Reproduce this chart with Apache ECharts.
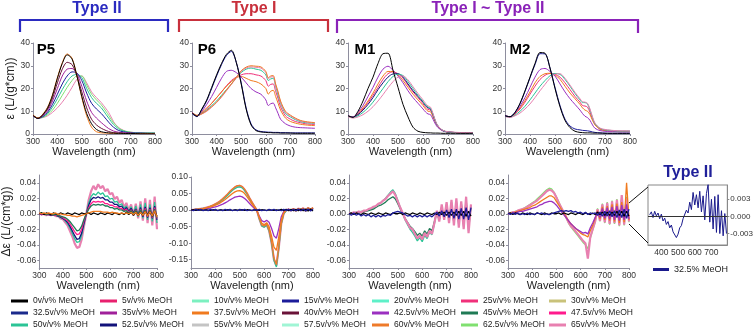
<!DOCTYPE html>
<html>
<head>
<meta charset="utf-8">
<title>MeOH titration spectra</title>
<script src="https://cdn.jsdelivr.net/npm/echarts@6/dist/echarts.min.js"></script>
<style>
    html, body { margin: 0; padding: 0; background: #fff; }
    #main { width: 756px; height: 330px; }
</style>
</head>
<body>
<div id="main"></div>
<script>
// ---- names / colours of the MeOH fractions (legend order, row by row) ----
var fracNames = ['0v/v% MeOH', '5v/v% MeOH', '10v/v% MeOH', '15v/v% MeOH', '20v/v% MeOH', '25v/v% MeOH', '30v/v% MeOH',
    '32.5v/v% MeOH', '35v/v% MeOH', '37.5v/v% MeOH', '40v/v% MeOH', '42.5v/v% MeOH', '45v/v% MeOH', '47.5v/v% MeOH',
    '50v/v% MeOH', '52.5v/v% MeOH', '55v/v% MeOH', '57.5v/v% MeOH', '60v/v% MeOH', '62.5v/v% MeOH', '65v/v% MeOH'];
var fracColors = ['#000000', '#e8206e', '#7cf0c0', '#1c1c9a', '#5ef0c8', '#f0307a', '#c9c27a',
    '#1b2a8c', '#a0209a', '#f07a1e', '#6a1238', '#9b30c0', '#1f7a55', '#ff1a8c',
    '#2bc496', '#12127a', '#c4c4c4', '#a0f5d5', '#ee7a2a', '#80e070', '#e880b0'];

// ---- x grids ----
var wlAbs = [300, 320, 340, 360, 380, 400, 420, 440, 460, 480, 500, 520, 540, 560, 580, 600,
    610, 620, 630, 640, 650, 660, 680, 700, 720, 740, 760, 780, 800];
var wlCd = [300, 310, 320, 330, 340, 350, 360, 370, 380, 390, 400, 410, 420, 430, 440, 450, 460, 470, 480, 490,
    500, 510, 520, 530, 540, 550, 560, 570, 580, 590, 600, 610, 620, 630, 640, 650, 660, 670, 680, 690,
    700, 710, 720, 730, 740, 750, 760, 770, 780, 790, 800];
var wlInset = [330, 340, 350, 360, 370, 380, 390, 400, 410, 420, 430, 440, 450, 460, 470, 480, 490,
    500, 510, 520, 530, 540, 550, 560, 570, 580, 590, 600, 610, 620, 630, 640, 650, 660, 670, 680, 690,
    700, 710, 720, 730, 740, 750, 760, 770, 780, 790];

// ---- tick labels ----
var wlTicks = [300, 400, 500, 600, 700, 800];
var absTicks = [0, 10, 20, 30, 40];
var cdTicks = [-0.06, -0.04, -0.02, 0, 0.02, 0.04];
var cdTicksP6 = [-0.15, -0.10, -0.05, 0, 0.05, 0.10];
var insetXTicks = [400, 500, 600, 700];
var insetYTicks = [-0.003, 0, 0.003];

// ---- absorbance, P5 ----
var p5Abs0 = [8.2, 6.8, 8.5, 11.5, 17, 24.5, 31, 34.8, 33, 25.5, 16.5, 9, 4.5, 2, 1, 0.6, 0.5, 0.4, 0.4, 0.3, 0.3, 0.3, 0.2, 0.2, 0.2, 0.1, 0.1, 0.1, 0.1];
var p5Abs375 = [8.4, 7, 8.7, 11.8, 17.3, 24.8, 31.3, 35.2, 33.3, 25.5, 16, 8, 3, 1, 0.5, 0.4, 0.3, 0.3, 0.3, 0.3, 0.2, 0.2, 0.2, 0.2, 0.2, 0.2, 0.2, 0.2, 0.2];
var p5Abs40 = [8.2, 6.9, 8.3, 11, 15.8, 22.5, 28.5, 31.5, 30.5, 25.5, 18.5, 11.5, 6.5, 4, 2.5, 1.5, 1.1, 0.8, 0.6, 0.5, 0.4, 0.4, 0.3, 0.3, 0.2, 0.2, 0.2, 0.2, 0.2];
var p5Abs35 = [8.1, 6.9, 8, 10.3, 14.5, 20, 25.5, 28.5, 28.8, 26.5, 21, 14.5, 9.5, 7, 5, 3.2, 2.4, 1.8, 1.3, 1, 0.8, 0.6, 0.5, 0.4, 0.3, 0.3, 0.3, 0.2, 0.2];
var p5Abs15 = [8, 6.9, 7.7, 9.6, 13, 17.5, 22, 25.5, 27.3, 26.8, 23.5, 18, 13.5, 11, 9, 6.5, 5.2, 4, 3, 2.2, 1.6, 1.2, 0.8, 0.5, 0.4, 0.4, 0.3, 0.3, 0.3];
var p5Abs50 = [8, 7, 7.5, 9, 11.8, 15.5, 19.5, 23, 25.5, 26.2, 24.8, 20, 16, 13.5, 11.5, 8.5, 7, 5.5, 4.2, 3.2, 2.3, 1.7, 1, 0.7, 0.5, 0.5, 0.4, 0.4, 0.4];
var p5Abs625 = [8, 7, 7.3, 8.5, 10.5, 13.5, 17, 20.5, 23.5, 25.5, 25.5, 21.5, 17.5, 15, 12.8, 9.8, 8.2, 6.5, 5, 3.8, 2.8, 2, 1.2, 0.8, 0.6, 0.5, 0.5, 0.4, 0.4];
var p5Abs65 = [8, 7, 7.2, 8, 9.5, 11.5, 14, 17, 20.5, 24, 25.5, 22.5, 18.5, 16, 13.8, 11, 9.5, 7.5, 5.5, 4, 3, 2.2, 1.2, 0.8, 0.6, 0.5, 0.5, 0.4, 0.4];

// ---- absorbance, P6 ----
var p6Abs0 = [9.3, 7.8, 11, 15, 20.5, 26, 31, 35, 36.8, 31.5, 22, 11, 4, 1.5, 0.9, 0.7, 0.6, 0.6, 0.5, 0.5, 0.5, 0.4, 0.4, 0.4, 0.3, 0.3, 0.3, 0.3, 0.3];
var p6Abs15 = [9, 7.6, 10.7, 14.6, 20, 25.5, 30.5, 34.5, 36.3, 31.5, 22.5, 11.5, 4.5, 1.8, 1.1, 0.9, 0.8, 0.8, 0.7, 0.7, 0.7, 0.6, 0.6, 0.5, 0.5, 0.5, 0.5, 0.5, 0.5];
var p6Abs425 = [9.5, 8, 10, 13, 16.5, 20.5, 24.5, 27.5, 28, 27, 25, 22.5, 20, 18.5, 17.5, 15, 12.5, 13.3, 13.6, 11.5, 9, 6.5, 4.5, 3.5, 3, 2.8, 2.7, 2.6, 2.5];
var p6Abs375 = [9.5, 8.2, 9.5, 11.5, 13.5, 16, 18.5, 21, 23, 24.8, 25.3, 24.5, 23.5, 23, 22, 20, 17.5, 18.8, 19.2, 16.5, 13.5, 10.5, 7, 5.5, 4.8, 4.3, 4, 3.8, 3.7];
var p6Abs25 = [9.3, 8, 9.2, 11, 13.5, 16, 18.5, 21.2, 23.5, 25, 26, 26.5, 26.5, 26, 25.5, 23.5, 21, 21.8, 22, 18.8, 15.5, 12, 8, 6.5, 5.5, 5, 4.5, 4.3, 4.2];
var p6Abs50 = [9, 8, 9, 10.5, 12.5, 14.5, 17, 19.5, 22, 24.8, 27, 28.5, 29, 28.5, 28, 26, 23.5, 24.2, 24.5, 21, 17, 13.5, 9, 7.5, 6.3, 5.5, 5, 4.8, 4.6];
var p6Abs65 = [9, 8, 8.8, 10, 11.8, 13.8, 16.2, 19, 21.8, 24.6, 27.5, 29, 29.5, 29.3, 29, 27, 24.3, 25, 25.2, 21.5, 18, 14, 9.5, 8, 6.7, 5.8, 5.3, 5, 4.8];
var p6Abs60 = [9.2, 8.1, 8.9, 10.2, 12, 14, 16.5, 19.3, 22, 24.8, 27.8, 29.4, 30, 29.8, 29.5, 27.5, 24.8, 25.5, 25.7, 22, 18.5, 14.5, 10, 8.3, 7, 6, 5.5, 5.2, 5];

// ---- absorbance, M1 ----
var m1Abs0 = [8, 7.3, 10, 14.5, 20, 25, 31, 35.3, 35.5, 28, 20.5, 13, 7.5, 3, 1.2, 0.7, 0.6, 0.5, 0.5, 0.4, 0.4, 0.4, 0.3, 0.3, 0.3, 0.3, 0.3, 0.3, 0.3];
var m1Abs425 = [8, 7.5, 9.5, 12.5, 16.5, 20.5, 25, 28.5, 29.8, 28, 25.5, 22.5, 19, 16, 13.5, 11, 9.7, 8.8, 8.5, 6.5, 4.3, 2.8, 1.3, 0.9, 0.7, 0.6, 0.5, 0.5, 0.5];
var m1Abs375 = [8, 7.4, 9, 11.5, 14.5, 18, 22, 25.5, 27.5, 27.5, 26, 23.5, 20.5, 17.5, 15, 12.5, 11, 10, 9.8, 7.5, 5, 3.2, 1.4, 0.9, 0.7, 0.6, 0.5, 0.5, 0.5];
var m1Abs25 = [7.9, 7.3, 8.7, 11, 13.8, 17, 20.5, 24, 26.5, 27.3, 26.5, 24.5, 21.5, 18.5, 16, 13.3, 11.8, 10.8, 10.5, 8.2, 5.3, 3.3, 1.4, 0.9, 0.7, 0.6, 0.5, 0.5, 0.5];
var m1Abs525 = [8, 7.3, 8.5, 10.5, 13, 16, 19.5, 22.5, 25, 26.4, 26.5, 25, 22, 19, 16.5, 14, 12.5, 11.5, 11, 8.5, 5.5, 3.5, 1.5, 0.9, 0.7, 0.6, 0.5, 0.5, 0.5];
var m1Abs50 = [7.8, 7.2, 8, 9.5, 11.5, 14, 17, 20, 23, 25.3, 26.3, 25.7, 23, 20, 17, 14.3, 12.8, 11.8, 11.3, 8.7, 5.6, 3.5, 1.5, 0.9, 0.7, 0.6, 0.5, 0.5, 0.5];
var m1Abs65 = [7.6, 7, 7.5, 8.5, 10, 12, 14.5, 17.3, 20.3, 23, 25, 25.5, 23.8, 20.8, 17.8, 15, 13.5, 12.3, 11.8, 9, 5.8, 3.6, 1.6, 1, 0.8, 0.7, 0.6, 0.6, 0.6];

// ---- absorbance, M2 ----
var m2Abs0 = [8, 7.6, 9.5, 13.5, 19, 25, 31, 35.8, 35.5, 29, 20, 12, 6, 2.8, 1.2, 0.7, 0.6, 0.5, 0.5, 0.5, 0.4, 0.4, 0.4, 0.3, 0.3, 0.3, 0.3, 0.3, 0.3];
var m2Abs15 = [8, 7.6, 9.5, 13.3, 18.7, 24.7, 30.5, 35.3, 35.2, 29, 20.5, 12.5, 6.5, 3.5, 2.2, 1.8, 1.6, 1.5, 1.4, 1.2, 0.9, 0.7, 0.5, 0.4, 0.3, 0.3, 0.3, 0.3, 0.3];
var m2Abs425 = [8, 7.6, 9.2, 12.2, 16, 20.5, 25, 28.3, 28.8, 27.5, 25.5, 22, 18.5, 15.5, 13, 10.5, 9, 7.8, 7.2, 6, 4, 2.5, 1.5, 1.2, 1, 1, 0.9, 0.9, 0.9];
var m2Abs375 = [8, 7.6, 9, 11.5, 14.8, 18.5, 22.5, 25.3, 26.5, 26.7, 26, 24, 21, 18, 15.5, 13, 11.5, 10.5, 10, 8.5, 6, 4, 2, 1.5, 1.3, 1.2, 1.1, 1.1, 1.1];
var m2Abs25 = [7.9, 7.5, 8.8, 11, 14, 17.5, 21, 24, 25.8, 26.6, 26.3, 25, 22.5, 19.5, 16.5, 14, 12.5, 12.3, 11.8, 9.5, 6.5, 4.2, 2.2, 1.6, 1.4, 1.3, 1.2, 1.2, 1.2];
var m2Abs50 = [7.8, 7.4, 8.3, 10, 12.2, 15, 18, 21, 23.5, 25.6, 26.6, 26.2, 24, 21, 17.8, 15, 13.8, 13.8, 13.2, 10.5, 7.2, 4.5, 2.5, 1.8, 1.6, 1.4, 1.3, 1.3, 1.3];
var m2Abs65 = [7.7, 7.3, 8, 9.2, 11, 13.2, 16, 19, 21.8, 24.5, 26.3, 26.5, 24.5, 21.5, 18.3, 15.5, 14.2, 14, 13.5, 11, 7.5, 4.8, 2.6, 2, 1.7, 1.5, 1.4, 1.4, 1.3];

// ---- CD, flat 0 % trace ----
var cdBlack = [0.000, 0.001, -0.001, 0.001, 0.000, -0.001, 0.001, 0.000, -0.001, 0.001,
    0.000, -0.001, 0.001, 0.000, -0.001, 0.001, 0.000, -0.001, 0.001, 0.000,
    0.000, 0.001, -0.001, 0.001, 0.000, -0.001, 0.001, 0.000, -0.001, 0.001,
    0.000, -0.001, 0.001, 0.000, -0.001, 0.001, -0.001, 0.002, -0.001, 0.002,
    -0.002, 0.002, -0.002, 0.002, -0.002, 0.003, -0.002, 0.003, -0.003, 0.003, -0.003];

// ---- CD, P5 ----
var p5Cd65 = [0.001, -0.001, 0.000, -0.002, 0.000, -0.002, -0.001, -0.003, -0.003, -0.006,
    -0.007, -0.011, -0.015, -0.022, -0.029, -0.038, -0.044, -0.043, -0.033, -0.016,
    0.000, 0.018, 0.029, 0.036, 0.031, 0.038, 0.033, 0.036, 0.029, 0.032,
    0.025, 0.027, 0.019, 0.022, 0.014, 0.018, 0.008, 0.014, 0.004, 0.012,
    -0.002, 0.013, -0.006, 0.016, -0.009, 0.02, -0.012, 0.018, -0.015, 0.022, -0.02];
var p5Cd50 = [0.000, 0.001, -0.001, 0.000, -0.001, -0.001, -0.002, -0.002, -0.003, -0.005,
    -0.006, -0.009, -0.013, -0.018, -0.025, -0.032, -0.037, -0.036, -0.028, -0.013,
    0.001, 0.014, 0.022, 0.026, 0.024, 0.028, 0.025, 0.027, 0.022, 0.023,
    0.019, 0.02, 0.015, 0.016, 0.011, 0.013, 0.007, 0.01, 0.003, 0.009,
    0.000, 0.01, -0.004, 0.012, -0.006, 0.014, -0.008, 0.012, -0.01, 0.015, -0.012];
var p5Cd525 = [0.000, -0.001, 0.000, -0.001, -0.001, -0.002, -0.001, -0.002, -0.003, -0.004,
    -0.006, -0.008, -0.011, -0.016, -0.022, -0.028, -0.033, -0.032, -0.025, -0.012,
    0.000, 0.011, 0.018, 0.021, 0.02, 0.022, 0.02, 0.021, 0.018, 0.018,
    0.015, 0.015, 0.012, 0.012, 0.009, 0.01, 0.005, 0.008, 0.003, 0.007,
    0.001, 0.006, -0.002, 0.008, -0.004, 0.009, -0.005, 0.008, -0.006, 0.01, -0.008];
var p5Cd475 = [0.000, 0.000, -0.001, 0.000, -0.001, -0.001, -0.001, -0.002, -0.002, -0.003,
    -0.005, -0.007, -0.009, -0.013, -0.018, -0.023, -0.027, -0.026, -0.02, -0.009,
    0.000, 0.008, 0.013, 0.016, 0.015, 0.016, 0.015, 0.016, 0.013, 0.013,
    0.011, 0.011, 0.009, 0.009, 0.007, 0.007, 0.004, 0.006, 0.002, 0.005,
    0.000, 0.005, -0.002, 0.006, -0.003, 0.007, -0.004, 0.006, -0.005, 0.008, -0.006];
var p5Cd45 = [0.000, 0.001, 0.000, -0.001, 0.000, -0.001, -0.001, -0.001, -0.002, -0.003,
    -0.004, -0.005, -0.007, -0.01, -0.014, -0.018, -0.022, -0.021, -0.016, -0.007,
    0.000, 0.006, 0.01, 0.012, 0.011, 0.012, 0.011, 0.012, 0.01, 0.01,
    0.008, 0.008, 0.006, 0.007, 0.005, 0.005, 0.003, 0.004, 0.001, 0.004,
    0.000, 0.004, -0.001, 0.005, -0.002, 0.005, -0.003, 0.005, -0.004, 0.006, -0.005];
var p5Cd375 = [0.001, 0.000, 0.001, 0.000, 0.001, 0.000, 0.000, 0.001, -0.001, 0.000,
    -0.001, -0.001, -0.002, -0.002, -0.003, -0.003, -0.004, -0.003, -0.002, -0.001,
    0.000, 0.001, 0.002, 0.003, 0.003, 0.003, 0.003, 0.002, 0.002, 0.002,
    0.001, 0.002, 0.001, 0.001, 0.000, 0.001, 0.000, 0.001, 0.000, 0.002,
    -0.001, 0.002, -0.002, 0.002, -0.002, 0.003, -0.003, 0.003, -0.003, 0.004, -0.004];

// ---- CD, P6 ----
var p6Cd60 = [0.000, 0.001, 0.002, 0.003, 0.004, 0.005, 0.007, 0.009, 0.012, 0.015,
    0.019, 0.023, 0.028, 0.034, 0.041, 0.049, 0.057, 0.064, 0.07, 0.074,
    0.075, 0.071, 0.063, 0.051, 0.037, 0.024, 0.012, 0.000, -0.025, -0.045,
    -0.048, -0.042, -0.06, -0.095, -0.145, -0.165, -0.11, -0.04, -0.01, 0.000,
    0.002, 0.000, 0.004, -0.002, 0.005, 0.000, 0.006, -0.002, 0.007, 0.001, 0.008];
var p6Cd65 = [0.000, 0.001, 0.002, 0.003, 0.004, 0.005, 0.007, 0.009, 0.011, 0.014,
    0.018, 0.022, 0.027, 0.033, 0.04, 0.047, 0.055, 0.062, 0.068, 0.072,
    0.073, 0.07, 0.061, 0.05, 0.036, 0.023, 0.011, -0.001, -0.026, -0.047,
    -0.05, -0.044, -0.062, -0.098, -0.15, -0.168, -0.112, -0.04, -0.01, -0.001,
    0.002, -0.002, 0.004, -0.003, 0.005, -0.001, 0.006, -0.003, 0.007, 0.000, 0.007];
var p6Cd50 = [0.000, 0.001, 0.002, 0.003, 0.004, 0.005, 0.006, 0.008, 0.011, 0.014,
    0.017, 0.021, 0.026, 0.032, 0.038, 0.045, 0.053, 0.06, 0.065, 0.069,
    0.07, 0.067, 0.059, 0.048, 0.035, 0.022, 0.011, -0.001, -0.027, -0.048,
    -0.052, -0.045, -0.063, -0.1, -0.152, -0.172, -0.115, -0.042, -0.011, -0.002,
    0.001, -0.002, 0.003, -0.003, 0.004, -0.001, 0.005, -0.003, 0.006, 0.000, 0.006];
var p6Cd375 = [0.000, 0.001, 0.002, 0.002, 0.003, 0.004, 0.006, 0.008, 0.01, 0.012,
    0.015, 0.018, 0.022, 0.027, 0.032, 0.038, 0.044, 0.05, 0.055, 0.058,
    0.059, 0.056, 0.05, 0.04, 0.029, 0.018, 0.008, -0.002, -0.022, -0.04,
    -0.044, -0.038, -0.05, -0.078, -0.112, -0.122, -0.08, -0.03, -0.008, 0.000,
    0.002, -0.001, 0.003, -0.002, 0.004, 0.000, 0.005, -0.002, 0.005, 0.001, 0.006];
var p6Cd425 = [0.000, 0.001, 0.001, 0.002, 0.002, 0.003, 0.004, 0.005, 0.006, 0.008,
    0.01, 0.012, 0.015, 0.018, 0.022, 0.026, 0.031, 0.035, 0.039, 0.041,
    0.042, 0.04, 0.035, 0.028, 0.02, 0.012, 0.005, -0.003, -0.018, -0.032,
    -0.036, -0.031, -0.037, -0.055, -0.078, -0.085, -0.055, -0.02, -0.004, 0.001,
    0.002, -0.001, 0.003, -0.001, 0.003, 0.000, 0.004, -0.001, 0.004, 0.001, 0.005];
var p6Cd15 = [0.001, -0.002, 0.002, -0.001, 0.002, -0.002, 0.001, -0.002, 0.002, -0.001,
    0.002, -0.002, 0.001, -0.002, 0.002, -0.001, 0.002, -0.002, 0.001, -0.002,
    0.002, -0.001, 0.002, -0.002, 0.001, -0.002, 0.002, -0.001, 0.002, -0.002,
    0.001, -0.002, 0.002, -0.001, 0.002, -0.002, 0.001, -0.002, 0.002, -0.001,
    0.002, -0.002, 0.002, -0.002, 0.003, -0.002, 0.003, -0.003, 0.003, -0.003, 0.003];

// ---- CD, M1 ----
var m1Cd65 = [0.001, 0.000, 0.002, 0.001, 0.003, 0.002, 0.004, 0.004, 0.006, 0.007,
    0.009, 0.01, 0.013, 0.014, 0.017, 0.019, 0.023, 0.026, 0.029, 0.024,
    0.016, 0.008, 0.001, -0.007, -0.012, -0.018, -0.02, -0.026, -0.032, -0.028,
    -0.033, -0.025, -0.03, -0.022, -0.026, -0.012, 0.004, -0.01, 0.012, -0.008,
    0.015, -0.012, 0.018, -0.015, 0.02, -0.018, 0.016, -0.02, 0.022, -0.025, 0.012];
var m1Cd50 = [0.000, 0.001, 0.001, 0.002, 0.002, 0.003, 0.003, 0.004, 0.005, 0.006,
    0.008, 0.01, 0.012, 0.014, 0.017, 0.02, 0.024, 0.028, 0.031, 0.026,
    0.017, 0.008, 0.000, -0.008, -0.014, -0.02, -0.024, -0.029, -0.035, -0.031,
    -0.036, -0.028, -0.032, -0.024, -0.027, -0.013, 0.003, -0.009, 0.01, -0.008,
    0.013, -0.01, 0.015, -0.013, 0.017, -0.016, 0.015, -0.018, 0.019, -0.022, 0.01];
var m1Cd45 = [0.000, 0.001, 0.001, 0.001, 0.002, 0.002, 0.003, 0.003, 0.004, 0.005,
    0.006, 0.008, 0.01, 0.011, 0.013, 0.015, 0.018, 0.02, 0.022, 0.019,
    0.013, 0.006, 0.000, -0.006, -0.011, -0.016, -0.019, -0.023, -0.028, -0.025,
    -0.029, -0.022, -0.026, -0.019, -0.022, -0.01, 0.002, -0.008, 0.008, -0.007,
    0.011, -0.009, 0.012, -0.01, 0.014, -0.012, 0.012, -0.014, 0.015, -0.017, 0.008];
var m1Cd15 = [0.000, -0.002, 0.001, -0.002, 0.000, -0.003, -0.001, -0.003, -0.001, -0.004,
    -0.002, -0.004, -0.002, -0.004, -0.002, -0.003, -0.001, -0.002, 0.001, 0.002,
    0.003, 0.002, 0.001, -0.001, -0.003, -0.002, -0.004, -0.002, -0.004, -0.002,
    -0.004, -0.002, -0.004, -0.002, -0.004, -0.001, 0.002, -0.003, 0.004, -0.004,
    0.005, -0.005, 0.006, -0.006, 0.006, -0.007, 0.007, -0.007, 0.008, -0.008, 0.008];

// ---- CD, M2 ----
var m2Cd625 = [0.000, 0.001, 0.002, 0.003, 0.004, 0.005, 0.006, 0.008, 0.01, 0.012,
    0.014, 0.016, 0.019, 0.022, 0.025, 0.028, 0.031, 0.033, 0.032, 0.028,
    0.022, 0.015, 0.008, 0.002, -0.005, -0.012, -0.017, -0.021, -0.025, -0.029,
    -0.033, -0.037, -0.04, -0.045, -0.032, -0.021, -0.011, 0.007, -0.01, 0.013,
    -0.012, 0.015, -0.014, 0.017, -0.013, 0.019, -0.016, 0.022, -0.015, 0.022, -0.011];
var m2Cd65 = [0.000, 0.001, 0.002, 0.002, 0.004, 0.005, 0.006, 0.007, 0.009, 0.011,
    0.013, 0.015, 0.017, 0.02, 0.023, 0.026, 0.029, 0.031, 0.03, 0.027,
    0.021, 0.014, 0.008, 0.002, -0.004, -0.011, -0.016, -0.019, -0.023, -0.027,
    -0.031, -0.035, -0.038, -0.058, -0.03, -0.02, -0.01, 0.006, -0.009, 0.012,
    -0.011, 0.014, -0.013, 0.016, -0.012, 0.018, -0.015, 0.024, -0.014, 0.02, -0.01];
var m2Cd375 = [0.000, 0.001, 0.001, 0.002, 0.003, 0.004, 0.005, 0.006, 0.007, 0.008,
    0.01, 0.011, 0.013, 0.015, 0.017, 0.019, 0.021, 0.023, 0.023, 0.021,
    0.016, 0.011, 0.006, 0.001, -0.004, -0.009, -0.013, -0.016, -0.019, -0.022,
    -0.025, -0.027, -0.028, -0.03, -0.022, -0.015, -0.006, 0.004, -0.007, 0.009,
    -0.008, 0.01, -0.009, 0.012, -0.01, 0.013, -0.012, 0.015, -0.011, 0.04, -0.008];
var m2Cd425 = [0.000, 0.000, 0.001, 0.001, 0.002, 0.003, 0.003, 0.004, 0.005, 0.006,
    0.007, 0.008, 0.009, 0.011, 0.012, 0.014, 0.015, 0.016, 0.016, 0.014,
    0.011, 0.007, 0.003, -0.001, -0.005, -0.009, -0.013, -0.016, -0.019, -0.021,
    -0.023, -0.025, -0.024, -0.026, -0.018, -0.012, -0.005, 0.003, -0.005, 0.007,
    -0.006, 0.008, -0.007, 0.009, -0.008, 0.01, -0.009, 0.011, -0.008, 0.012, -0.007];
var m2Cd15 = [0.001, -0.001, 0.001, -0.001, 0.001, -0.001, 0.000, -0.001, 0.001, -0.001,
    0.000, -0.001, 0.001, 0.000, 0.001, -0.001, 0.000, -0.001, 0.000, 0.001,
    0.002, 0.003, 0.004, 0.003, 0.004, 0.003, 0.004, 0.002, 0.003, 0.001,
    0.002, 0.000, 0.002, -0.001, 0.001, 0.000, 0.001, -0.002, 0.002, -0.003,
    0.003, -0.003, 0.004, -0.004, 0.004, -0.005, 0.005, -0.005, 0.006, -0.006, 0.006];

// ---- inset: 32.5 % MeOH, Type II ----
var inset325 = [0.0003, 0.0008, -0.0002, 0.0009, 0.0001, 0.0006, -0.0004,
    0.0004, -0.0008, -0.0003, -0.0014, -0.0009, -0.0020, -0.0015, -0.0027, -0.0024, -0.0037,
    -0.0031, -0.0020, -0.0016, -0.0004, -0.0002, 0.0011, 0.0006, 0.0025, 0.0012, 0.0042,
    0.0020, 0.0038, 0.0015, 0.0044, 0.0008, 0.0036, -0.0006, 0.0040, 0.0056, -0.0010,
    0.0030, -0.0022, 0.0035, -0.0028, 0.0038, -0.0030, 0.0010, -0.0034, 0.0005, -0.0030];

// which traces go in which panel (grid index), in drawing order
var absPanels = [
    {grid: 0, lines: [['65v/v% MeOH', p5Abs65], ['62.5v/v% MeOH', p5Abs625], ['50v/v% MeOH', p5Abs50], ['15v/v% MeOH', p5Abs15],
        ['35v/v% MeOH', p5Abs35], ['40v/v% MeOH', p5Abs40], ['37.5v/v% MeOH', p5Abs375], ['0v/v% MeOH', p5Abs0]]},
    {grid: 1, lines: [['25v/v% MeOH', p6Abs25], ['37.5v/v% MeOH', p6Abs375], ['42.5v/v% MeOH', p6Abs425], ['50v/v% MeOH', p6Abs50],
        ['65v/v% MeOH', p6Abs65], ['60v/v% MeOH', p6Abs60], ['15v/v% MeOH', p6Abs15], ['0v/v% MeOH', p6Abs0]]},
    {grid: 2, lines: [['25v/v% MeOH', m1Abs25], ['37.5v/v% MeOH', m1Abs375], ['42.5v/v% MeOH', m1Abs425], ['52.5v/v% MeOH', m1Abs525],
        ['50v/v% MeOH', m1Abs50], ['65v/v% MeOH', m1Abs65], ['0v/v% MeOH', m1Abs0]]},
    {grid: 3, lines: [['25v/v% MeOH', m2Abs25], ['37.5v/v% MeOH', m2Abs375], ['42.5v/v% MeOH', m2Abs425], ['50v/v% MeOH', m2Abs50],
        ['65v/v% MeOH', m2Abs65], ['15v/v% MeOH', m2Abs15], ['0v/v% MeOH', m2Abs0]]}
];
var cdPanels = [
    {grid: 4, lines: [['65v/v% MeOH', p5Cd65], ['50v/v% MeOH', p5Cd50], ['52.5v/v% MeOH', p5Cd525], ['47.5v/v% MeOH', p5Cd475],
        ['45v/v% MeOH', p5Cd45], ['0v/v% MeOH', cdBlack], ['37.5v/v% MeOH', p5Cd375]]},
    {grid: 5, lines: [['65v/v% MeOH', p6Cd65], ['50v/v% MeOH', p6Cd50], ['42.5v/v% MeOH', p6Cd425], ['37.5v/v% MeOH', p6Cd375],
        ['60v/v% MeOH', p6Cd60], ['0v/v% MeOH', cdBlack], ['15v/v% MeOH', p6Cd15]]},
    {grid: 6, lines: [['50v/v% MeOH', m1Cd50], ['45v/v% MeOH', m1Cd45], ['65v/v% MeOH', m1Cd65], ['0v/v% MeOH', cdBlack],
        ['15v/v% MeOH', m1Cd15]]},
    {grid: 7, lines: [['62.5v/v% MeOH', m2Cd625], ['65v/v% MeOH', m2Cd65], ['37.5v/v% MeOH', m2Cd375], ['42.5v/v% MeOH', m2Cd425],
        ['0v/v% MeOH', cdBlack], ['15v/v% MeOH', m2Cd15]]}
];

var font = 'Liberation Sans, Arial, sans-serif';
var axisColor = '#8e8e9e';
var myChart = echarts.init(document.getElementById('main'));

function colorOf(name) {
    return fracColors[fracNames.indexOf(name)];
}
function pts(xs, ys) {
    return xs.map(function (x, i) { return [x, ys[i]]; });
}
function xAxisCfg(gi) {
    return {
        type: 'value', gridIndex: gi, min: 300, max: 800,
        axisLine: {onZero: false, lineStyle: {color: axisColor}},
        axisTick: {length: 2, customValues: wlTicks, lineStyle: {color: axisColor}},
        axisLabel: {fontSize: 8.5, color: '#333', margin: 3, fontFamily: font, customValues: wlTicks},
        splitLine: {show: false},
        name: 'Wavelength (nm)', nameLocation: 'middle', nameGap: 9,
        nameTextStyle: {fontSize: 11, color: '#222', fontFamily: font}
    };
}
function yAxisCfg(gi, min, max, ticks, digits, name) {
    var ax = {
        type: 'value', gridIndex: gi, min: min, max: max,
        axisLine: {show: true, lineStyle: {color: axisColor}},
        axisTick: {show: true, length: 2, customValues: ticks, lineStyle: {color: axisColor}},
        axisLabel: {fontSize: 8.5, color: '#333', margin: 3, fontFamily: font, customValues: ticks,
            formatter: function (v) { return v.toFixed(digits); }},
        splitLine: {show: false}
    };
    if (name) {
        ax.name = name;
        ax.nameLocation = 'middle';
        ax.nameGap = 14;
        ax.nameTextStyle = {fontSize: 12, color: '#222', fontFamily: font};
    }
    return ax;
}

var grids = [
    {left: 33, top: 43, width: 122, height: 91},
    {left: 192, top: 43, width: 123, height: 91},
    {left: 348, top: 43, width: 125, height: 91},
    {left: 505, top: 43, width: 125, height: 91},
    {left: 33, top: 175, width: 124, height: 93},
    {left: 191, top: 177, width: 122, height: 91},
    {left: 349, top: 175, width: 122, height: 93},
    {left: 508, top: 175, width: 121, height: 93},
    {left: 648, top: 185, width: 85, height: 60, show: true, borderColor: '#888', borderWidth: 1}
];

var xAxes = [], yAxes = [];
for (var g = 0; g < 8; g++) {
    xAxes.push(xAxisCfg(g));
}
yAxes.push(yAxisCfg(0, 0, 40, absTicks, 0, 'ε (L/(g*cm))'));
yAxes.push(yAxisCfg(1, 0, 40, absTicks, 0));
yAxes.push(yAxisCfg(2, 0, 40, absTicks, 0));
yAxes.push(yAxisCfg(3, 0, 40, absTicks, 0));
yAxes.push(yAxisCfg(4, -0.07, 0.05, cdTicks, 2, 'Δε (L/(cm*g))'));
yAxes.push(yAxisCfg(5, -0.175, 0.10, cdTicksP6, 2));
yAxes.push(yAxisCfg(6, -0.07, 0.05, cdTicks, 2));
yAxes.push(yAxisCfg(7, -0.07, 0.05, cdTicks, 2));
// inset axes
xAxes.push({
    type: 'value', gridIndex: 8, min: 320, max: 795,
    axisLine: {onZero: false, lineStyle: {color: '#888'}},
    axisTick: {show: false},
    axisLabel: {fontSize: 8.5, color: '#333', margin: 3, fontFamily: font, customValues: insetXTicks},
    splitLine: {show: false}
});
yAxes.push({
    type: 'value', gridIndex: 8, position: 'right', min: -0.005, max: 0.0055,
    axisLine: {show: true, lineStyle: {color: '#888'}},
    axisTick: {show: true, length: 2, customValues: insetYTicks, lineStyle: {color: '#888'}},
    axisLabel: {fontSize: 8, color: '#333', margin: 3, fontFamily: font, customValues: insetYTicks,
        formatter: function (v) { return v.toFixed(3); }},
    splitLine: {show: false}
});

var series = [];
absPanels.forEach(function (p) {
    p.lines.forEach(function (l) {
        series.push({
            type: 'line', name: l[0], xAxisIndex: p.grid, yAxisIndex: p.grid,
            data: pts(wlAbs, l[1]), showSymbol: false, smooth: 0.3,
            lineStyle: {width: 1, color: colorOf(l[0])}, itemStyle: {color: colorOf(l[0])}
        });
    });
});
cdPanels.forEach(function (p) {
    p.lines.forEach(function (l) {
        var w = l[0] === '65v/v% MeOH' ? 2.2 : 1.3;
        series.push({
            type: 'line', name: l[0], xAxisIndex: p.grid, yAxisIndex: p.grid,
            data: pts(wlCd, l[1]), showSymbol: false,
            lineStyle: {width: w, color: colorOf(l[0])}, itemStyle: {color: colorOf(l[0])}
        });
    });
});
// fractions not traced above still get their legend entry
fracNames.forEach(function (n) {
    var used = series.some(function (s) { return s.name === n; });
    if (!used) {
        series.push({type: 'line', name: n, xAxisIndex: 0, yAxisIndex: 0, data: [], showSymbol: false,
            lineStyle: {color: colorOf(n)}, itemStyle: {color: colorOf(n)}});
    }
});
series.push({
    type: 'line', name: '32.5% MeOH', xAxisIndex: 8, yAxisIndex: 8,
    data: pts(wlInset, inset325), showSymbol: false,
    lineStyle: {width: 1, color: '#1a1a8c'}, itemStyle: {color: '#1a1a8c'},
    markLine: {silent: true, symbol: 'none', label: {show: false},
        lineStyle: {color: '#333', width: 1, type: 'solid'}, data: [{yAxis: 0}]}
});

var legendLeft = [11, 100, 192, 282, 372, 461, 549];
var legends = [];
for (var c = 0; c < 7; c++) {
    legends.push({
        orient: 'vertical', left: legendLeft[c], top: 296, padding: 0, itemGap: 2,
        itemWidth: 17, itemHeight: 3, icon: 'rect', selectedMode: false,
        textStyle: {fontSize: 8.5, color: '#222', fontFamily: font, lineHeight: 10},
        data: [fracNames[c], fracNames[c + 7], fracNames[c + 14]]
    });
}
legends.push({
    left: 653, top: 265, padding: 0, itemWidth: 16, itemHeight: 3, icon: 'rect', selectedMode: false,
    textStyle: {fontSize: 9, color: '#222', fontFamily: font}, data: ['32.5% MeOH']
});

function label(text, x, y, color, size) {
    return {type: 'text', x: x, y: y, style: {text: text, fill: color, font: 'bold ' + size + 'px ' + font,
        align: 'center', verticalAlign: 'middle'}};
}
function bracket(x1, x2, y1, y2, color) {
    return {type: 'polyline', shape: {points: [[x1, y2], [x1, y1], [x2, y1], [x2, y2]]},
        style: {stroke: color, lineWidth: 2.2, fill: null}};
}
var graphics = [
    label('Type II', 97, 9, '#2b2bc0', 16),
    bracket(20, 168, 20, 32, '#2b2bc0'),
    label('Type I', 254, 9, '#c8303c', 16),
    bracket(179, 328, 20, 32, '#c8303c'),
    label('Type I ~ Type II', 488, 9, '#8a22b8', 16),
    bracket(337, 638, 20, 33, '#8a22b8'),
    label('Type II', 688, 173, '#20209a', 16),
    label('P5', 46, 50, '#000', 15),
    label('P6', 207, 50, '#000', 15),
    label('M1', 365, 50, '#000', 15),
    label('M2', 520, 50, '#000', 15),
    {type: 'line', shape: {x1: 629, y1: 203, x2: 648, y2: 187}, style: {stroke: '#111', lineWidth: 1}},
    {type: 'line', shape: {x1: 629, y1: 224, x2: 648, y2: 243}, style: {stroke: '#111', lineWidth: 1}}
];

var option = {
    animation: false,
    backgroundColor: '#fff',
    textStyle: {fontFamily: font},
    grid: grids,
    xAxis: xAxes,
    yAxis: yAxes,
    legend: legends,
    series: series,
    graphic: graphics
};
myChart.setOption(option);
</script>
</body>
</html>
